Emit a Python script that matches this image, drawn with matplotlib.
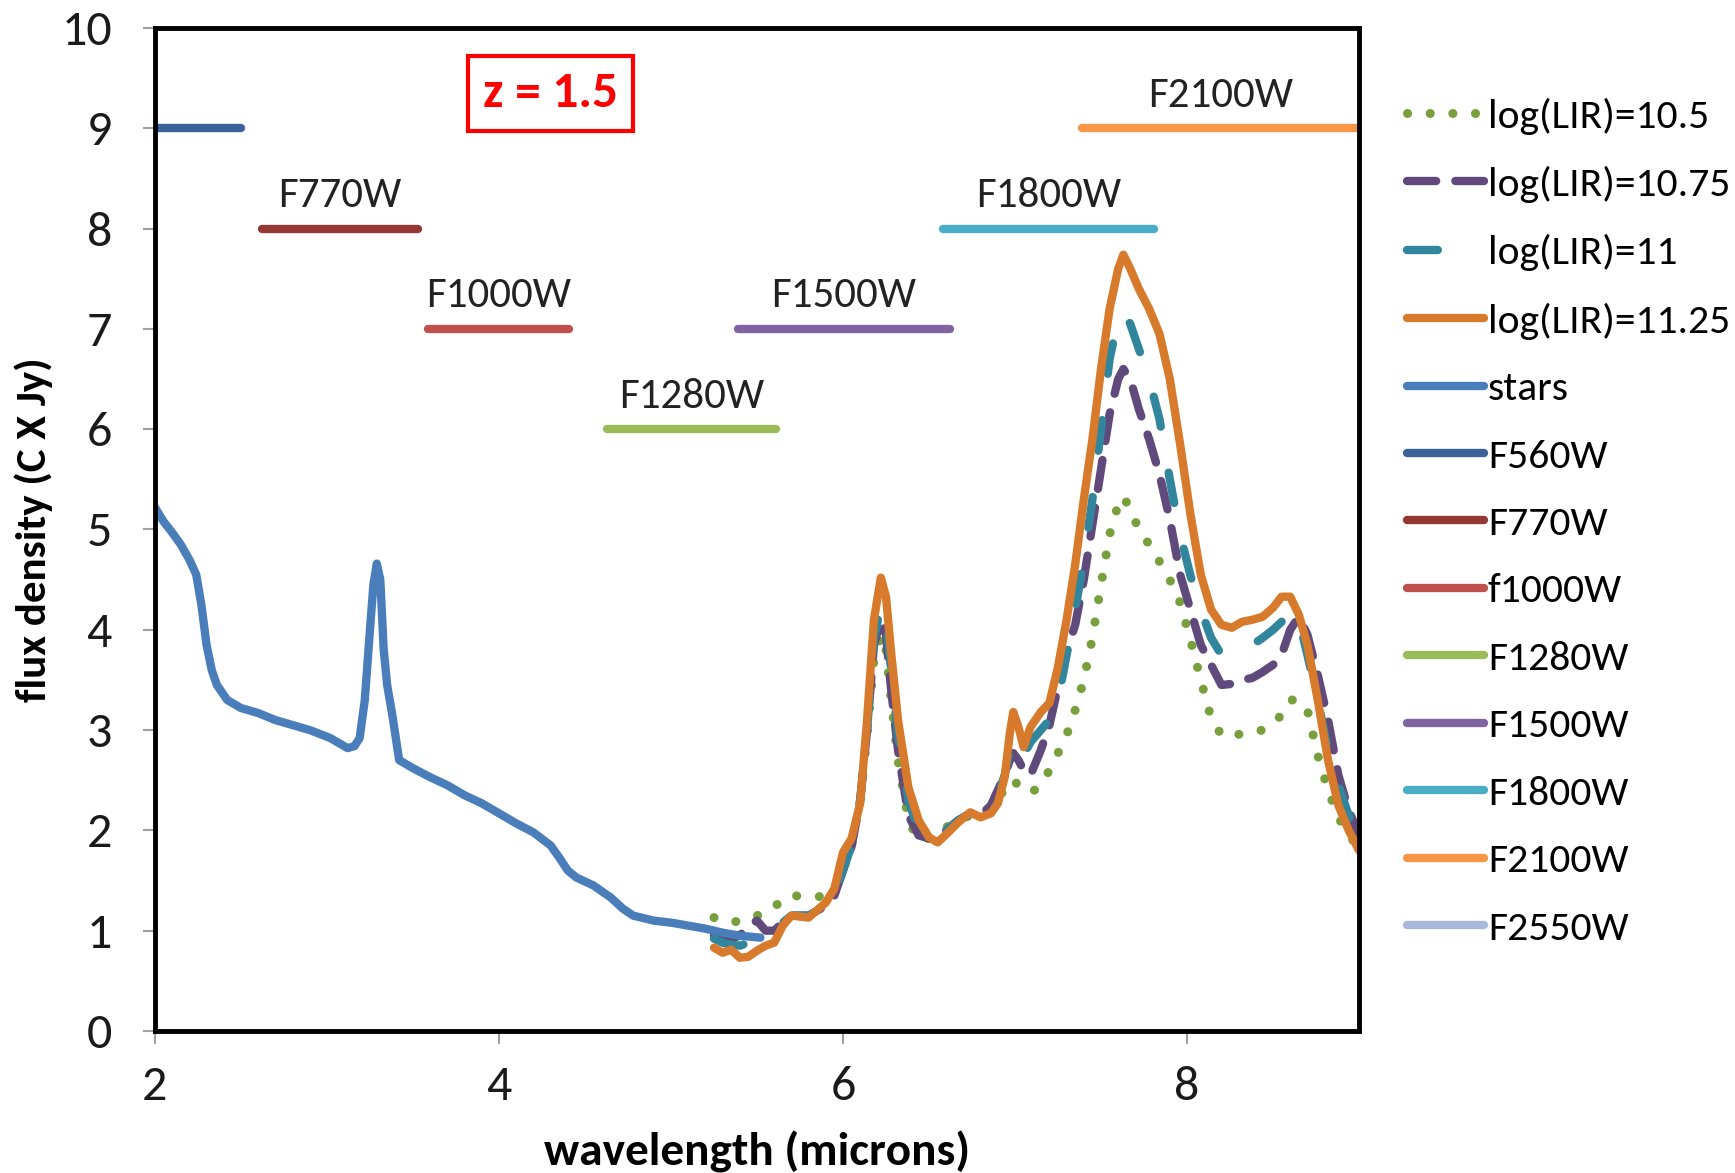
import matplotlib.pyplot as plt
import numpy as np

plt.rcParams['font.family'] = ['Carlito', 'Lato', 'DejaVu Sans']

# stellar continuum
stars_wl = [2.0, 2.05, 2.1, 2.15, 2.2, 2.24, 2.27, 2.30, 2.33, 2.36, 2.42, 2.5, 2.6, 2.7,
            2.8, 2.9, 3.02, 3.08, 3.12, 3.16, 3.19, 3.22, 3.25, 3.27, 3.29, 3.31, 3.33,
            3.35, 3.38, 3.42, 3.5, 3.6, 3.7, 3.8, 3.9, 4.0, 4.1, 4.2, 4.3, 4.35, 4.4,
            4.45, 4.55, 4.65, 4.72, 4.78, 4.9, 5.0, 5.1, 5.2, 5.3, 5.4, 5.52]
stars_flux = [5.22, 5.08, 4.97, 4.85, 4.7, 4.55, 4.25, 3.85, 3.6, 3.45, 3.3, 3.22, 3.17, 3.1,
              3.05, 3.0, 2.92, 2.86, 2.82, 2.84, 2.92, 3.3, 4.0, 4.45, 4.66, 4.5, 3.8,
              3.45, 3.15, 2.7, 2.62, 2.53, 2.45, 2.35, 2.27, 2.17, 2.07, 1.98, 1.85, 1.73, 1.6,
              1.53, 1.45, 1.33, 1.22, 1.15, 1.1, 1.08, 1.05, 1.02, 0.98, 0.95, 0.93]

# PAH templates, common wavelength grid
lir_wl = [5.25, 5.3, 5.35, 5.4, 5.45, 5.5, 5.55, 5.6, 5.65, 5.7, 5.8, 5.9, 5.95, 6.0, 6.05,
          6.1, 6.14, 6.18, 6.22, 6.25, 6.28, 6.32, 6.38, 6.44, 6.5, 6.55, 6.6, 6.67, 6.74,
          6.8, 6.86, 6.9, 6.94, 6.97, 6.99, 7.02, 7.05, 7.09, 7.15, 7.2, 7.25, 7.3, 7.35,
          7.4, 7.45, 7.5, 7.55, 7.6, 7.63, 7.67, 7.72, 7.78, 7.84, 7.9, 7.96, 8.02, 8.08,
          8.14, 8.2, 8.26, 8.32, 8.38, 8.44, 8.5, 8.55, 8.6, 8.65, 8.7, 8.76, 8.82, 8.88,
          8.94, 9.0]
lir_1050 = [1.13, 1.10, 1.08, 1.10, 1.13, 1.15, 1.18, 1.23, 1.32, 1.35, 1.34, 1.34, 1.4, 1.6, 1.85,
            2.3, 2.95, 3.7, 3.95, 3.8, 3.3, 2.7, 2.1, 1.9, 1.92, 1.97, 2.03, 2.1, 2.15,
            2.15, 2.2, 2.3, 2.42, 2.5, 2.5, 2.45, 2.4, 2.37, 2.45, 2.6, 2.77, 2.95, 3.2,
            3.5, 3.92, 4.45, 4.95, 5.25, 5.33, 5.2, 5.0, 4.85, 4.68, 4.5, 4.27, 3.9, 3.5,
            3.12, 2.95, 2.93, 2.97, 2.98, 3.0, 3.07, 3.15, 3.3, 3.3, 3.2, 2.75, 2.4, 2.13,
            1.95, 1.83]
lir_1075 = [0.95, 0.93, 0.92, 0.95, 1.05, 1.10, 1.0, 1.0, 1.08, 1.15, 1.15, 1.25, 1.35, 1.6, 1.84,
            2.3, 3.0, 3.85, 4.1, 3.95, 3.4, 2.8, 2.15, 1.95, 1.92, 1.93, 2.0, 2.1, 2.17,
            2.15, 2.25, 2.4, 2.55, 2.7, 2.77, 2.7, 2.6, 2.55, 2.8, 3.05, 3.43, 3.78, 4.05,
            4.5, 5.05, 5.6, 6.15, 6.5, 6.6, 6.5, 6.2, 5.9, 5.55, 5.1, 4.55, 4.2, 3.85,
            3.65, 3.45, 3.46, 3.5, 3.52, 3.58, 3.65, 3.75, 4.0, 4.13, 3.95, 3.55, 3.1, 2.55,
            2.2, 1.95]
lir_1100 = [0.92, 0.88, 0.86, 0.85, 0.88, 0.95, 1.0, 1.02, 1.08, 1.15, 1.15, 1.25, 1.35, 1.6, 1.85,
            2.3, 3.0, 3.9, 4.25, 4.1, 3.6, 2.95, 2.3, 2.0, 1.92, 1.92, 2.0, 2.1, 2.17,
            2.15, 2.2, 2.35, 2.55, 2.8, 2.92, 2.85, 2.75, 2.88, 3.0, 3.1, 3.3, 3.75, 4.2,
            4.7, 5.3, 6.0, 6.7, 7.1, 7.17, 7.05, 6.8, 6.5, 6.1, 5.5, 4.95, 4.54, 4.2,
            3.92, 3.75, 3.72, 3.78, 3.85, 3.92, 4.0, 4.08, 4.2, 4.1, 3.75, 3.3, 2.8, 2.45,
            2.15, 1.9]
lir_1125 = [0.83, 0.78, 0.81, 0.73, 0.74, 0.80, 0.85, 0.88, 1.05, 1.15, 1.13, 1.28, 1.42, 1.78, 1.92,
            2.27, 3.10, 4.10, 4.52, 4.33, 3.77, 3.10, 2.43, 2.10, 1.93, 1.88, 1.96, 2.08, 2.18,
            2.13, 2.17, 2.27, 2.53, 2.97, 3.18, 3.03, 2.83, 3.03, 3.18, 3.27, 3.63, 4.10, 4.65,
            5.3, 5.9, 6.6, 7.2, 7.6, 7.74, 7.6, 7.4, 7.2, 6.95, 6.5, 5.85, 5.15, 4.55,
            4.20, 4.05, 4.02, 4.08, 4.10, 4.13, 4.22, 4.33, 4.33, 4.15, 3.85, 3.30, 2.70, 2.25,
            2.00, 1.80]

# MIRI filter bands (start, end) in microns and plotting level
filter_names = ['F560W', 'F770W', 'f1000W', 'F1280W', 'F1500W', 'F1800W', 'F2100W', 'F2550W']
filter_labels = ['', 'F770W', 'F1000W', 'F1280W', 'F1500W', 'F1800W', 'F2100W', '']
filter_start = [1.9, 2.62, 3.59, 4.63, 5.39, 6.58, 7.39, None]
filter_end = [2.5, 3.53, 4.41, 5.61, 6.62, 7.81, 9.1, None]
filter_level = [9, 8, 7, 6, 7, 8, 9, None]
filter_colors = ['#3A6299', '#953735', '#C0504D', '#9BBB59', '#8064A2', '#4BACC6', '#F79646', '#A7B9DC']

fig, ax = plt.subplots(figsize=(17.35, 11.73), dpi=100)
fig.subplots_adjust(left=0.0893, right=0.7833, bottom=0.1211, top=0.9761)

lw = 6
ax.plot(lir_wl, lir_1050, color='#77A03C', lw=6.5, linestyle=(0, (0.01, 2.5)),
        dash_capstyle='round', label='log(LIR)=10.5')
ax.plot(lir_wl, lir_1075, color='#604A7B', lw=lw, linestyle=(0, (3.5, 2.3)),
        dash_capstyle='round', label='log(LIR)=10.75')
ax.plot(lir_wl, lir_1100, color='#31859C', lw=lw, linestyle=(0, (3.7, 5.6)),
        dash_capstyle='round', label='log(LIR)=11')
ax.plot(lir_wl, lir_1125, color='#D77A2C', lw=lw, solid_capstyle='round',
        solid_joinstyle='round', label='log(LIR)=11.25')
ax.plot(stars_wl, stars_flux, color='#4A7EBB', lw=lw, solid_capstyle='round',
        solid_joinstyle='round', label='stars')

for name, lab, x0, x1, lev, col in zip(filter_names, filter_labels, filter_start,
                                         filter_end, filter_level, filter_colors):
    if x0 is None:
        ax.plot([], [], color=col, lw=lw, solid_capstyle='round', label=name)
        continue
    ax.plot([x0, x1], [lev, lev], color=col, lw=lw, solid_capstyle='round', label=name)
    if lab:
        ax.text((x0 + min(x1, 9.0)) / 2, lev + 0.33, lab, ha='center', va='center',
                fontsize=31, color='#222222')

ax.text(4.3, 9.35, 'z = 1.5', color='red', fontsize=37, fontweight='bold',
        ha='center', va='center',
        bbox=dict(boxstyle='square,pad=0.3', facecolor='white', edgecolor='red', linewidth=3))

ax.set_xlim(2, 9)
ax.set_ylim(0, 10)
ax.set_xticks([2, 4, 6, 8])
ax.set_yticks(range(0, 11))
ax.tick_params(axis='both', labelsize=36, color='#A0A0A0', length=9, width=1.5,
               labelcolor='#1a1a1a')
ax.tick_params(axis='y', pad=22)
ax.tick_params(axis='x', pad=16)
for sp in ax.spines.values():
    sp.set_linewidth(3.5)
    sp.set_color('black')

ax.set_xlabel('wavelength (microns)', fontsize=34, fontweight='bold', labelpad=17)
ax.set_ylabel('flux density (C X Jy)', fontsize=31, fontweight='bold', labelpad=6)

fig.legend(loc='upper left', bbox_to_anchor=(0.811, 0.917), frameon=False,
           fontsize=30, handlelength=1.85, handletextpad=0.09, labelspacing=0.75,
           borderpad=0, borderaxespad=0)

fig.savefig('out.png', dpi=100)
